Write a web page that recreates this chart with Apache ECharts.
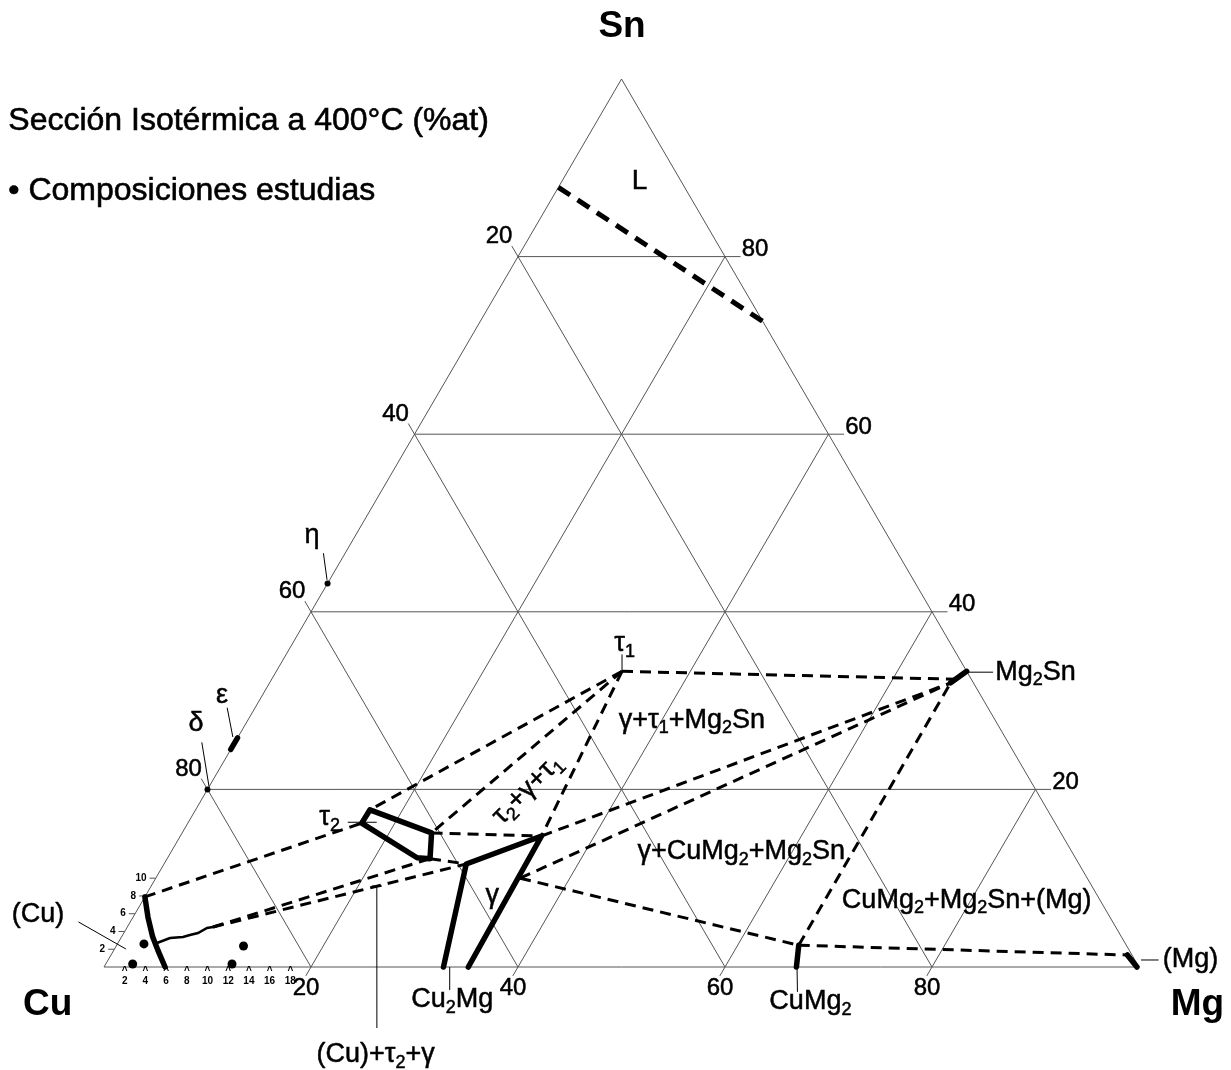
<!DOCTYPE html>
<html>
<head>
<meta charset="utf-8">
<title>Cu-Mg-Sn 400°C</title>
<script src="https://cdn.jsdelivr.net/npm/echarts@6.0.0/dist/echarts.min.js"></script>
<style>
  html, body { margin: 0; padding: 0; background: #fff; }
  #chart { width: 1231px; height: 1070px; }
</style>
</head>
<body>
<div id="chart"></div>
<script>
// Isothermal section of Cu-Mg-Sn at 400 °C. All compositions are [Mg at.%, Sn at.%]; Cu is the balance.

const gridTicks = [20, 40, 60, 80];
const fineTicksMg = [2, 4, 6, 8, 10, 12, 14, 16, 18];
const fineTicksSn = [2, 4, 6, 8, 10];

// single phases
const liquidBoundary = [[0, 87.8], [27.3, 72.7]];
const etaPhase = [0, 43.2];
const epsilonPhase = [[0, 24.5], [0, 25.8]];
const deltaPhase = [0, 20.0];
const tau1Phase = [33.4, 33.3];
const mg2snPhase = [[66.7, 33.3], [65.8, 32.0]];
const tau2Field = [[16.85, 17.7], [24.1, 15.1], [25.4, 12.2], [24.1, 12.3], [16.8, 16.2], [16.85, 17.7]];
const gammaField = [[32.8, 0], [29.2, 11.6], [34.9, 14.75], [35.2, 0]];
const cuSolvus = [[0, 7.9], [1.45, 5.6], [3.0, 3.4], [4.25, 1.9], [5.9, 0]];
const cuTieBoundary = [[3.77, 2.7], [4.74, 3.27], [5.94, 3.38], [6.5, 3.6], [7.17, 3.83], [7.76, 4.39], [8.28, 4.5]];
const cuMg2Phase = [[65.9, 2.45], [66.9, 0]];
const mgSolvus = [[98.2, 1.35], [99.8, 0]];

// tie lines / three-phase triangles
const tieLines = [
  [[0, 7.9], [16.8, 16.2]],
  [[8.28, 4.5], [25.4, 12.2]],
  [[8.28, 4.5], [29.2, 11.6]],
  [tau1Phase, [16.85, 17.7]],
  [tau1Phase, [24.1, 15.1]],
  [tau1Phase, [34.9, 14.75]],
  [[24.1, 15.1], [34.9, 14.75]],
  [[25.4, 12.2], [29.2, 11.6]],
  [tau1Phase, [66.3, 32.4]],
  [[34.9, 14.75], [65.8, 32.0]],
  [[35.2, 10.0], [65.8, 32.0]],
  [[35.2, 10.0], [65.9, 2.45]],
  [[65.9, 2.45], [65.8, 32.0]],
  [[65.9, 2.45], [98.2, 1.35]]
];

// studied alloys
const studiedAlloys = [[2.6, 0.34], [2.56, 2.6], [12.2, 0.34], [12.3, 2.36]];

const FONT = '"Liberation Sans", Arial, Helvetica, sans-serif';
const toXY = p => [p[0] + p[1] / 2, p[1]];

// ---------- line geometry ----------
const gridLines = [];
gridTicks.forEach(t => {
  gridLines.push([[0, t], [100 - t + 1.5, t]]);            // Sn = t
  gridLines.push([[t, -1], [t, 100 - t]]);                 // Mg = t
  gridLines.push([[-1.2, 100 - t + 1.2], [100 - t, 0]]);   // Cu = t
});
const outline = [[0, 0], [100, 0], [0, 100], [0, 0]];
const fineTickLines = fineTicksSn.map(s => [[-0.6, s], [0, s]]);

const leaders = [
  [[-2.1, 46.6], [-0.25, 43.6]],          // eta
  [[-2.7, 29.2], [-0.5, 25.9]],           // epsilon
  [[-3.2, 25.3], [0, 20.3]],              // delta
  [[32.45, 35.2], tau1Phase],             // tau1
  [[66.9, 33.2], [69.3, 33.2]],           // Mg2Sn
  [[15.4, 16.3], [18.2, 16.3]],           // tau2
  [[-5.0, 5.07], [1.1, 2.03]],            // (Cu)
  [[33.4, 0], [34.7, -2.6]],              // Cu2Mg
  [[66.96, 0], [68.4, -2.8]],             // CuMg2
  [[21.8, 9.12], [29.8, -6.87]],          // (Cu)+tau2+gamma
  [[21.3, 9.12], [22.3, 9.12]],
  [[99.8, 0.79], [101.5, 0.79]]           // (Mg)
];

function linesSeries(list, style, z) {
  return {
    type: 'lines', coordinateSystem: 'cartesian2d', polyline: true, silent: true, clip: false, z: z,
    lineStyle: Object.assign({ opacity: 1, curveness: 0 }, style),
    data: list.map(pts => ({ coords: pts.map(toXY) }))
  };
}

// ---------- text ----------
const INK = { color: '#000', textBorderColor: '#000', textBorderWidth: 0.5 };
const sub = size => Object.assign({ fontSize: Math.round(size * 0.68), fontFamily: FONT, padding: [Math.round(size * 0.6), 0, 0, 0] }, INK);
function textItem(at, text, size, extra) {
  return {
    value: toXY(at),
    label: Object.assign({
      show: true, position: 'inside', formatter: text,
      fontFamily: FONT, fontSize: size, align: 'center', verticalAlign: 'middle',
      rich: { s: sub(size) }
    }, INK, extra || {})
  };
}

const annotations = [
  textItem([7.5, 88.5], 'L', 28),
  textItem([-4.2, 48.6], 'η', 27),
  textItem([-3.9, 30.6], 'ε', 27),
  textItem([-4.8, 27.4], 'δ', 27),
  textItem([32.1, 36.4], 'τ{s|1}', 27),
  textItem([69.5, 33.2], 'Mg{s|2}Sn', 27, { align: 'left' }),
  textItem([42.9, 27.8], 'γ+τ{s|1}+Mg{s|2}Sn', 27),
  textItem([30.9, 20.0], 'τ{s|2}+γ+τ{s|1}', 27, { rotate: 45 }),
  textItem([13.4, 16.8], 'τ{s|2}', 27),
  textItem([33.5, 8.0], 'γ', 27),
  textItem([55.1, 12.95], 'γ+CuMg{s|2}+Mg{s|2}Sn', 27),
  textItem([79.6, 7.5], 'CuMg{s|2}+Mg{s|2}Sn+(Mg)', 27),
  textItem([101.9, 0.79], '(Mg)', 27, { align: 'left' }),
  textItem([-9.3, 5.86], '(Cu)', 27),
  textItem([35.5, -3.7], 'Cu{s|2}Mg', 27),
  textItem([70.2, -3.9], 'CuMg{s|2}', 27),
  textItem([31.2, -9.9], '(Cu)+τ{s|2}+γ', 27),
  textItem([-2.9, 105.9], 'Sn', 37, { fontWeight: 'bold', textBorderWidth: 0 }),
  textItem([-3.3, -4.3], 'Cu', 37, { fontWeight: 'bold', textBorderWidth: 0 }),
  textItem([107.8, -4.3], 'Mg', 37, { fontWeight: 'bold', textBorderWidth: 0 })
];

const tickLabels = [];
gridTicks.forEach(t => {
  tickLabels.push(textItem([0, 100 - t], String(t), 24, { offset: [-19, -20] }));   // Cu scale
  tickLabels.push(textItem([100 - t, t], String(t), 24, { offset: [30, -7] }));     // Sn scale
  tickLabels.push(textItem([t, 0], String(t), 24, { offset: [-5, 21] }));           // Mg scale
});
fineTicksMg.forEach(m => {
  tickLabels.push(textItem([m, 0], '{c|^}\n{d|' + m + '}', 10, {
    offset: [0, 10], textBorderWidth: 0,
    rich: {
      c: { fontSize: 10, fontFamily: FONT, fontWeight: 'bold', color: '#000', lineHeight: 8 },
      d: { fontSize: 10, fontFamily: FONT, fontWeight: 'bold', color: '#000', lineHeight: 11 }
    }
  }));
});
fineTicksSn.forEach(s => {
  tickLabels.push(textItem([-0.7, s], String(s), 10, { align: 'right', fontWeight: 'bold', textBorderWidth: 0, offset: [-2, 0] }));
});

const chart = echarts.init(document.getElementById('chart'), null, { renderer: 'canvas' });
chart.setOption({
  animation: false,
  backgroundColor: '#fff',
  grid: { left: 104, top: 79, width: 1035, height: 888 },
  xAxis: { type: 'value', min: 0, max: 100, show: false },
  yAxis: { type: 'value', min: 0, max: 100, show: false },
  graphic: [
    { type: 'text', left: 8, top: 105, style: { text: 'Sección Isotérmica a 400°C (%at)', font: '32px ' + FONT, fill: '#000', stroke: '#000', lineWidth: 0.6 } },
    { type: 'text', left: 8, top: 175, style: { text: '• Composiciones estudias', font: '32px ' + FONT, fill: '#000', stroke: '#000', lineWidth: 0.6 } }
  ],
  series: [
    linesSeries(gridLines, { color: '#555', width: 1 }, 1),
    linesSeries([outline], { color: '#555', width: 1 }, 1),
    linesSeries(fineTickLines, { color: '#555', width: 1 }, 1),
    linesSeries(leaders, { color: '#000', width: 1 }, 2),
    linesSeries(tieLines, { color: '#000', width: 3, type: [11, 7] }, 3),
    linesSeries([liquidBoundary], { color: '#000', width: 5, type: [14, 9] }, 3),
    linesSeries([cuTieBoundary], { color: '#000', width: 2.5 }, 3),
    linesSeries([tau2Field, gammaField, cuSolvus, mg2snPhase, cuMg2Phase, mgSolvus, epsilonPhase],
      { color: '#000', width: 5.5, cap: 'round', join: 'round' }, 4),
    {
      type: 'scatter', z: 5, silent: true, clip: false, symbol: 'circle', symbolSize: 9,
      itemStyle: { color: '#000', opacity: 1 },
      data: studiedAlloys.map(toXY)
    },
    {
      type: 'scatter', z: 5, silent: true, clip: false, symbol: 'circle', symbolSize: 6,
      itemStyle: { color: '#000', opacity: 1 },
      data: [etaPhase, deltaPhase].map(toXY)
    },
    {
      type: 'scatter', z: 6, silent: true, clip: false, symbol: 'circle', symbolSize: 0,
      itemStyle: { color: '#000', opacity: 1 },
      data: annotations.concat(tickLabels)
    }
  ]
});
</script>
</body>
</html>
